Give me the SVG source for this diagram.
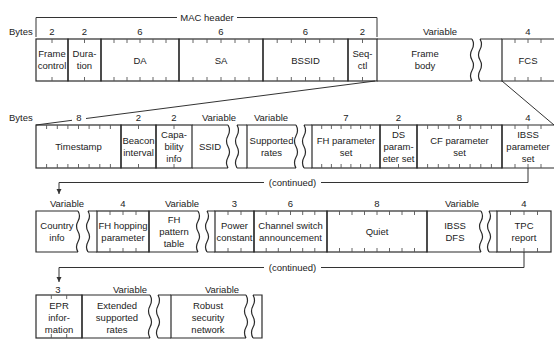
<svg xmlns="http://www.w3.org/2000/svg" width="554" height="340" viewBox="0 0 554 340">
<style>
.t{font-family:"Liberation Sans",Arial,sans-serif;font-size:9.5px;fill:#222;text-anchor:middle}
.l{font-family:"Liberation Sans",Arial,sans-serif;font-size:9.5px;fill:#222}
.b{stroke:#2a2a2a;stroke-width:1.2;fill:none}
.k{stroke:#555;stroke-width:0.9;fill:none}
.c{stroke:#333;stroke-width:1;fill:none}
</style>
<defs>
<marker id="ah" markerWidth="6" markerHeight="6" refX="5" refY="3" orient="auto" markerUnits="userSpaceOnUse">
<path d="M0,0.5 L5,3 L0,5.5 Z" fill="#333"/>
</marker>
</defs>
<rect width="554" height="340" fill="#fff"/>

<!-- labels -->
<g id="labels">
<text class="l" x="9" y="35">Bytes</text>
<text class="t" x="52" y="35">2</text>
<text class="t" x="84.5" y="35">2</text>
<text class="t" x="140" y="35">6</text>
<text class="t" x="221" y="35">6</text>
<text class="t" x="305.5" y="35">6</text>
<text class="t" x="362.5" y="35">2</text>
<text class="t" x="440" y="35">Variable</text>
<text class="t" x="528" y="35">4</text>
<text class="t" x="207" y="21">MAC header</text>

<text class="l" x="9" y="120.5">Bytes</text>
<text class="t" x="79" y="120.5">8</text>
<text class="t" x="138.5" y="120.5">2</text>
<text class="t" x="174" y="120.5">2</text>
<text class="t" x="219" y="120.5">Variable</text>
<text class="t" x="271" y="120.5">Variable</text>
<text class="t" x="346" y="120.5">7</text>
<text class="t" x="398.5" y="120.5">2</text>
<text class="t" x="459.5" y="120.5">8</text>
<text class="t" x="528" y="120.5">4</text>

<text class="t" x="67" y="206.5">Variable</text>
<text class="t" x="123" y="206.5">4</text>
<text class="t" x="182" y="206.5">Variable</text>
<text class="t" x="234.5" y="206.5">3</text>
<text class="t" x="290.5" y="206.5">6</text>
<text class="t" x="377" y="206.5">8</text>
<text class="t" x="462" y="206.5">Variable</text>
<text class="t" x="524" y="206.5">4</text>

<text class="t" x="58" y="292.5">3</text>
<text class="t" x="130" y="292.5">Variable</text>
<text class="t" x="222" y="292.5">Variable</text>
</g>

<!-- connectors -->
<g id="connectors">
<path class="c" d="M36 37 V17.5 H177 M237 17.5 H377 V37"/>
<path class="c" d="M375 81 L86 118.5 M72 120.3 L36 125"/>
<path class="c" d="M502 81 L554 125"/>
<path class="c" d="M528 168 V182.5 H321 M264 182.5 H59 V194" marker-end="url(#ah)"/>
<text class="t" x="292.5" y="185.5">(continued)</text>
<path class="c" d="M524 252 V267.5 H321 M264 267.5 H59 V282" marker-end="url(#ah)"/>
<text class="t" x="292.5" y="270.5">(continued)</text>
</g>

<!-- Row 1 -->
<g id="frame-control">
<rect class="b" x="36" y="39" width="32" height="42"/>
<path class="k" d="M52 39v4M52 81v-4"/>
<text class="t" x="52" y="57">Frame</text><text class="t" x="52" y="69">control</text>
</g>
<g id="duration">
<rect class="b" x="68" y="39" width="33" height="42"/>
<path class="k" d="M84.5 39v4M84.5 81v-4"/>
<text class="t" x="84.5" y="57">Dura-</text><text class="t" x="84.5" y="69">tion</text>
</g>
<g id="da">
<rect class="b" x="101" y="39" width="78" height="42"/>
<path class="k" d="M114 39v4M114 81v-4M127 39v4M127 81v-4M140 39v4M140 81v-4M153 39v4M153 81v-4M166 39v4M166 81v-4"/>
<text class="t" x="140" y="63.5">DA</text>
</g>
<g id="sa">
<rect class="b" x="179" y="39" width="84" height="42"/>
<path class="k" d="M193 39v4M193 81v-4M207 39v4M207 81v-4M221 39v4M221 81v-4M235 39v4M235 81v-4M249 39v4M249 81v-4"/>
<text class="t" x="221" y="63.5">SA</text>
</g>
<g id="bssid">
<rect class="b" x="263" y="39" width="85" height="42"/>
<path class="k" d="M277.2 39v4M277.2 81v-4M291.3 39v4M291.3 81v-4M305.5 39v4M305.5 81v-4M319.7 39v4M319.7 81v-4M333.8 39v4M333.8 81v-4"/>
<text class="t" x="305.5" y="63.5">BSSID</text>
</g>
<g id="seq-ctl">
<rect class="b" x="348" y="39" width="29" height="42"/>
<path class="k" d="M362.5 39v4M362.5 81v-4"/>
<text class="t" x="362.5" y="57">Seq-</text><text class="t" x="362.5" y="69">ctl</text>
</g>
<g id="frame-body">
<path class="b" d="M377 39 H472 M377 81 H472 M472 39 q3 5.25 0 10.5 t0 10.5 t0 10.5 t0 10.5 M480 39 q3 5.25 0 10.5 t0 10.5 t0 10.5 t0 10.5 M480 39 H502 M480 81 H502"/>
<text class="t" x="425" y="57">Frame</text><text class="t" x="425" y="69">body</text>
</g>
<g id="fcs">
<path class="b" d="M556 39 H502 V81 H556"/>
<path class="k" d="M515 39v4M515 81v-4M528 39v4M528 81v-4M541 39v4M541 81v-4"/>
<text class="t" x="528" y="63.5">FCS</text>
</g>

<!-- Row 2 -->
<g id="timestamp">
<rect class="b" x="36" y="125" width="85" height="43"/>
<path class="k" d="M46.6 125v4M46.6 168v-4M57.3 125v4M57.3 168v-4M67.9 125v4M67.9 168v-4M78.5 125v4M78.5 168v-4M89.1 125v4M89.1 168v-4M99.8 125v4M99.8 168v-4M110.4 125v4M110.4 168v-4"/>
<text class="t" x="78.5" y="150">Timestamp</text>
</g>
<g id="beacon-interval">
<rect class="b" x="121" y="125" width="35" height="43"/>
<path class="k" d="M138.5 125v4M138.5 168v-4"/>
<text class="t" x="138.5" y="144">Beacon</text><text class="t" x="138.5" y="156">interval</text>
</g>
<g id="capability-info">
<rect class="b" x="156" y="125" width="36" height="43"/>
<path class="k" d="M174 125v4M174 168v-4"/>
<text class="t" x="174" y="138">Capa-</text><text class="t" x="174" y="150">bility</text><text class="t" x="174" y="162">info</text>
</g>
<g id="ssid">
<path class="b" d="M192 125 H228 M192 168 H228 M228 125 q3 5.375 0 10.75 t0 10.75 t0 10.75 t0 10.75 M237 125 q3 5.375 0 10.75 t0 10.75 t0 10.75 t0 10.75 M237 125 H247 M237 168 H247"/>
<text class="t" x="210" y="150">SSID</text>
</g>
<g id="supported-rates">
<path class="b" d="M296 125 H247 V168 H296 M296 125 q3 5.375 0 10.75 t0 10.75 t0 10.75 t0 10.75 M304 125 q3 5.375 0 10.75 t0 10.75 t0 10.75 t0 10.75 M304 125 H312 M304 168 H312"/>
<text class="t" x="271.5" y="144">Supported</text><text class="t" x="271.5" y="156">rates</text>
</g>
<g id="fh-parameter-set">
<rect class="b" x="312" y="125" width="68" height="43"/>
<path class="k" d="M321.7 125v4M321.7 168v-4M331.4 125v4M331.4 168v-4M341.1 125v4M341.1 168v-4M350.9 125v4M350.9 168v-4M360.6 125v4M360.6 168v-4M370.3 125v4M370.3 168v-4"/>
<text class="t" x="346" y="144">FH parameter</text><text class="t" x="346" y="156">set</text>
</g>
<g id="ds-parameter-set">
<rect class="b" x="380" y="125" width="37" height="43"/>
<path class="k" d="M398.5 125v4M398.5 168v-4"/>
<text class="t" x="398.5" y="138">DS</text><text class="t" x="398.5" y="150">param-</text><text class="t" x="398.5" y="162">eter set</text>
</g>
<g id="cf-parameter-set">
<rect class="b" x="417" y="125" width="85" height="43"/>
<path class="k" d="M427.6 125v4M427.6 168v-4M438.3 125v4M438.3 168v-4M448.9 125v4M448.9 168v-4M459.5 125v4M459.5 168v-4M470.1 125v4M470.1 168v-4M480.8 125v4M480.8 168v-4M491.4 125v4M491.4 168v-4"/>
<text class="t" x="459.5" y="144">CF parameter</text><text class="t" x="459.5" y="156">set</text>
</g>
<g id="ibss-parameter-set">
<path class="b" d="M556 125 H502 V168 H556"/>
<path class="k" d="M515 125v4M515 168v-4M528 125v4M528 168v-4M541 125v4M541 168v-4"/>
<text class="t" x="528" y="138">IBSS</text><text class="t" x="528" y="150">parameter</text><text class="t" x="528" y="162">set</text>
</g>

<!-- Row 3 -->
<g id="country-info">
<path class="b" d="M78 211 H36 V252 H78 M78 211 q3 5.125 0 10.25 t0 10.25 t0 10.25 t0 10.25 M88 211 q3 5.125 0 10.25 t0 10.25 t0 10.25 t0 10.25 M88 211 H97 M88 252 H97"/>
<text class="t" x="57" y="229">Country</text><text class="t" x="57" y="241">info</text>
</g>
<g id="fh-hopping-parameter">
<rect class="b" x="97" y="211" width="52" height="41"/>
<path class="k" d="M110 211v4M110 252v-4M123 211v4M123 252v-4M136 211v4M136 252v-4"/>
<text class="t" x="123" y="229">FH hopping</text><text class="t" x="123" y="241">parameter</text>
</g>
<g id="fh-pattern-table">
<path class="b" d="M198 211 H149 V252 H198 M198 211 q3 5.125 0 10.25 t0 10.25 t0 10.25 t0 10.25 M207 211 q3 5.125 0 10.25 t0 10.25 t0 10.25 t0 10.25 M207 211 H215 M207 252 H215"/>
<text class="t" x="174" y="223">FH</text><text class="t" x="174" y="235">pattern</text><text class="t" x="174" y="247">table</text>
</g>
<g id="power-constant">
<rect class="b" x="215" y="211" width="39" height="41"/>
<path class="k" d="M228 211v4M228 252v-4M241 211v4M241 252v-4"/>
<text class="t" x="234.5" y="229">Power</text><text class="t" x="234.5" y="241">constant</text>
</g>
<g id="channel-switch">
<rect class="b" x="254" y="211" width="73" height="41"/>
<path class="k" d="M266.2 211v4M266.2 252v-4M278.3 211v4M278.3 252v-4M290.5 211v4M290.5 252v-4M302.7 211v4M302.7 252v-4M314.8 211v4M314.8 252v-4"/>
<text class="t" x="290.5" y="229">Channel switch</text><text class="t" x="290.5" y="241">announcement</text>
</g>
<g id="quiet">
<rect class="b" x="327" y="211" width="100" height="41"/>
<path class="k" d="M339.5 211v4M339.5 252v-4M352 211v4M352 252v-4M364.5 211v4M364.5 252v-4M377 211v4M377 252v-4M389.5 211v4M389.5 252v-4M402 211v4M402 252v-4M414.5 211v4M414.5 252v-4"/>
<text class="t" x="377" y="235">Quiet</text>
</g>
<g id="ibss-dfs">
<path class="b" d="M481 211 H427 V252 H481 M481 211 q3 5.125 0 10.25 t0 10.25 t0 10.25 t0 10.25 M489 211 q3 5.125 0 10.25 t0 10.25 t0 10.25 t0 10.25 M489 211 H497 M489 252 H497"/>
<text class="t" x="455" y="229">IBSS</text><text class="t" x="455" y="241">DFS</text>
</g>
<g id="tpc-report">
<rect class="b" x="497" y="211" width="54" height="41"/>
<path class="k" d="M510.5 211v4M510.5 252v-4M524 211v4M524 252v-4M537.5 211v4M537.5 252v-4"/>
<text class="t" x="524" y="229">TPC</text><text class="t" x="524" y="241">report</text>
</g>

<!-- Row 4 -->
<g id="epr-information">
<rect class="b" x="36" y="295" width="46" height="43"/>
<path class="k" d="M51.3 295v4M51.3 338v-4M66.7 295v4M66.7 338v-4"/>
<text class="t" x="59" y="308.5">EPR</text><text class="t" x="59" y="320.5">infor-</text><text class="t" x="59" y="332.5">mation</text>
</g>
<g id="extended-supported-rates">
<path class="b" d="M150 295 H82 V338 H150 M150 295 q3 5.375 0 10.75 t0 10.75 t0 10.75 t0 10.75 M158 295 q3 5.375 0 10.75 t0 10.75 t0 10.75 t0 10.75 M158 295 H171 M158 338 H171"/>
<text class="t" x="117" y="308.5">Extended</text><text class="t" x="117" y="320.5">supported</text><text class="t" x="117" y="332.5">rates</text>
</g>
<g id="robust-security-network">
<path class="b" d="M246 295 H171 V338 H246 M246 295 q3 5.375 0 10.75 t0 10.75 t0 10.75 t0 10.75 M253 295 q3 5.375 0 10.75 t0 10.75 t0 10.75 t0 10.75 M253 295 H262 V338 H253"/>
<text class="t" x="208" y="308.5">Robust</text><text class="t" x="208" y="320.5">security</text><text class="t" x="208" y="332.5">network</text>
</g>
</svg>
